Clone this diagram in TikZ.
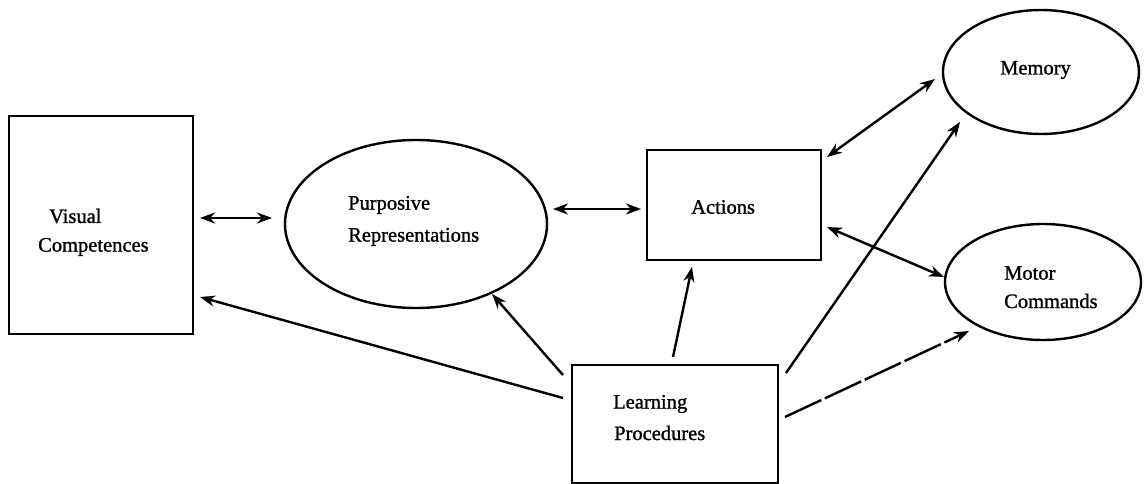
\documentclass[tikz,border=0pt]{standalone}
\usepackage{fontspec}
\setmainfont{Liberation Serif}
\newfontfamily\lblfont{Liberation Serif}[RawFeature={embolden=1.2}]
\usetikzlibrary{shapes.geometric,arrows.meta}
\begin{document}
\begin{tikzpicture}[x=1pt,y=-1pt,
  box/.style={draw,line width=2.4pt,rectangle,inner sep=0pt},
  oval/.style={draw,line width=2.4pt,ellipse,inner sep=0pt},
  lbl/.style={font=\lblfont\fontsize{20.5}{24}\selectfont,inner sep=0pt,anchor=west},
  conn/.style={line width=2.4pt,-{Stealth[length=15pt,width=11pt]}},
  dconn/.style={line width=2.4pt,{Stealth[length=15pt,width=11pt]}-{Stealth[length=15pt,width=11pt]}}]
\useasboundingbox (0,0) rectangle (1144,484);
% nodes
\node[box,minimum width=184pt,minimum height=218pt] (vc) at (101,225) {};
\node[oval,minimum width=262pt,minimum height=168pt] (pr) at (416,224) {};
\node[box,minimum width=174pt,minimum height=110pt] (ac) at (734,205) {};
\node[oval,minimum width=196pt,minimum height=124pt] (me) at (1041,72) {};
\node[oval,minimum width=196pt,minimum height=116pt] (mc) at (1043,282) {};
\node[box,minimum width=206pt,minimum height=118pt] (lp) at (675,424) {};
% labels
\node[lbl] (vc1) at (49,216) {Visual};
\node[lbl] (vc2) at (38,247) {Competences};
\node[lbl] (pr1) at (348,205) {Purposive};
\node[lbl] (pr2) at (348,237) {Representations};
\node[lbl] (ac1) at (691,207) {Actions};
\node[lbl] (me1) at (1000,70) {Memory};
\node[lbl] (mc1) at (1004,273) {Motor};
\node[lbl] (mc2) at (1004,301) {Commands};
\node[lbl] (lp1) at (613,404) {Learning};
\node[lbl] (lp2) at (614,433) {Procedures};
% connector end points
\coordinate (vcR) at (200,218);
\coordinate (prL) at (272,218);
\coordinate (prR) at (553,209);
\coordinate (acL) at (641,209);
\coordinate (acTR) at (827,157);
\coordinate (meL) at (935,79);
\coordinate (acBR) at (827,227);
\coordinate (mcL) at (944,277);
\coordinate (lpVC) at (563,398);
\coordinate (vcB) at (200,297);
\coordinate (lpPR) at (563,375);
\coordinate (prB) at (492,294);
\coordinate (lpAC) at (673,357);
\coordinate (acB) at (692,267);
\coordinate (lpME) at (786,373);
\coordinate (meB) at (960,122);
\coordinate (lpMC) at (785,417);
\coordinate (mcB) at (969,331);
% connectors
\draw[dconn] (vcR) -- (prL);
\draw[dconn] (prR) -- (acL);
\draw[dconn] (acTR) -- (meL);
\draw[dconn] (acBR) -- (mcL);
\draw[conn] (lpVC) -- (vcB);
\draw[conn] (lpPR) -- (prB);
\draw[conn] (lpAC) -- (acB);
\draw[conn] (lpME) -- (meB);
\draw[conn,dash pattern=on 40pt off 4pt] (lpMC) -- (mcB);
\end{tikzpicture}
\end{document}
